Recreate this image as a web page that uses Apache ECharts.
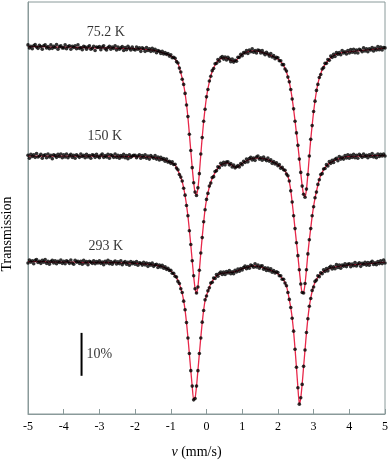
<!DOCTYPE html>
<html><head><meta charset="utf-8">
<script src="https://cdn.jsdelivr.net/npm/echarts@6/dist/echarts.min.js"></script>
<style>html,body{margin:0;padding:0;background:#fff}#c{width:392px;height:460px}</style>
</head><body><div id="c"></div>
<script>
// velocity channels (mm/s)
const vStart = -5, vStep = 0.04;
const vMin = -5, vMax = 5, vTickStep = 1;
const spectraNames = ['75.2 K', '150 K', '293 K'];
const offsets = [-14.5, -39.9, -64.6];
const labelV = [-2.82, -2.85, -2.82];
const labelY = [89.0, 64.6, 39.0];
const scaleBarV = -3.5, scaleBarLow = 8.9, scaleBarPct = 10, scaleBarText = '10%';

// 75.2 K : fit and measured transmission (%)
const fit75 = [
100.1,100.1,100.1,100.1,100.1,100.1,100.1,100.1,100.1,100.1,100.1,100.1,100.1,100.0,100.0,100.0,100.0,100.0,100.0,100.0,100.0,100.0,100.0,100.0,100.0,
100.0,100.0,100.0,100.0,100.0,100.0,100.0,100.0,99.9,99.9,99.9,99.9,99.9,99.9,99.9,99.9,99.9,99.8,99.8,99.8,99.8,99.8,99.8,99.8,99.8,
99.8,99.8,99.8,99.8,99.8,99.8,99.8,99.8,99.8,99.8,99.8,99.8,99.7,99.7,99.7,99.7,99.7,99.7,99.7,99.7,99.7,99.7,99.7,99.7,99.7,
99.6,99.6,99.6,99.55,99.55,99.5,99.5,99.45,99.45,99.4,99.4,99.35,99.3,99.25,99.2,99.1,99.0,98.9,98.8,98.7,98.6,98.5,98.4,98.25,98.1,
97.95,97.75,97.5,97.2,96.8,96.2,95.2,94.0,92.7,91.2,89.2,86.7,83.6,79.8,75.8,71.9,68.5,66.1,65.5,67.1,70.6,74.9,79.0,82.6,85.7,
88.3,90.3,91.9,93.3,94.3,95.2,95.8,96.4,96.8,97.1,97.3,97.4,97.5,97.5,97.4,97.3,97.1,96.9,96.8,96.7,96.8,97.0,97.3,97.7,98.0,
98.3,98.5,98.7,98.8,98.9,99.0,99.05,99.1,99.1,99.1,99.05,99.0,98.95,98.85,98.75,98.65,98.55,98.45,98.3,98.2,98.05,97.9,97.75,97.6,97.4,
97.2,96.95,96.6,96.2,95.7,95.0,94.2,93.1,91.8,90.1,88.0,85.5,82.8,79.9,77.1,74.0,70.7,67.7,65.6,65.1,66.8,70.4,74.5,78.5,81.8,
84.9,87.5,89.7,91.4,92.8,93.8,94.7,95.4,95.9,96.4,96.8,97.2,97.5,97.8,98.0,98.2,98.3,98.4,98.5,98.6,98.7,98.75,98.8,98.85,98.9,
98.9,98.95,99.0,99.0,99.05,99.1,99.1,99.15,99.2,99.2,99.25,99.3,99.3,99.35,99.4,99.4,99.45,99.5,99.5,99.55,99.6,99.6,99.65,99.7,99.7,
99.7];
const data75 = [
100.5,99.8,100.2,99.6,100.3,100.6,100.0,99.7,100.4,100.1,99.5,100.3,100.5,99.8,100.1,99.6,100.5,99.7,100.2,99.9,100.6,99.5,100.1,100.3,99.8,
99.8,100.5,99.6,100.1,100.3,99.5,100.2,99.9,100.3,99.6,100.5,99.7,99.9,99.4,100.2,100.0,99.5,100.0,100.3,99.5,99.7,100.2,99.2,100.0,99.9,
100.1,99.4,100.0,100.3,99.6,99.3,99.9,100.2,99.5,100.0,99.7,100.3,99.3,100.0,99.5,99.8,100.1,99.2,99.9,99.4,100.2,99.7,99.3,100.0,99.5,
99.3,100.0,99.5,99.8,99.0,99.8,99.6,99.0,99.9,99.2,99.6,99.0,99.7,99.1,99.5,98.7,99.2,99.0,98.5,99.0,98.4,98.7,98.3,98.5,97.9,
98.2,97.5,97.6,97.4,96.6,96.3,95.1,94.2,92.5,91.3,89.2,86.5,83.8,79.7,75.9,71.9,68.4,66.2,65.4,67.2,70.5,75.1,78.9,82.7,85.5,
88.4,90.1,92.1,93.2,94.5,95.0,96.1,96.2,97.1,96.7,97.5,97.8,97.2,97.7,97.0,97.6,97.2,96.6,97.2,96.5,96.9,96.7,97.6,97.6,98.3,
98.0,98.7,98.6,99.2,98.5,99.3,98.9,99.6,98.8,99.2,98.6,99.3,99.2,98.6,99.2,98.6,98.2,98.8,98.4,97.9,98.5,97.7,98.0,97.3,97.6,
97.5,96.8,96.8,95.9,95.9,94.9,94.4,93.0,91.9,90.1,87.9,85.6,82.7,80.0,77.1,73.9,70.8,67.6,65.7,65.0,66.9,70.3,74.6,78.5,81.7,
85.0,87.4,89.9,91.3,92.9,93.6,94.9,95.2,96.2,96.2,97.1,96.9,97.9,97.6,98.3,97.8,98.7,98.3,98.7,98.2,99.2,98.6,98.9,98.4,99.2,
98.6,99.4,98.8,99.5,98.7,99.3,98.6,99.5,99.3,98.9,99.8,99.1,99.6,98.9,99.6,99.3,99.9,99.1,99.7,99.3,100.1,99.4,100.0,99.3,99.9,
99.8];

// 150 K
const fit150 = [
100.0,100.0,100.0,100.0,100.0,100.0,100.0,100.0,100.0,100.0,100.0,100.0,100.0,100.0,100.0,100.0,100.0,100.0,100.0,100.0,100.0,100.0,100.0,100.0,100.0,
100.0,100.0,100.0,100.0,100.0,100.0,100.0,100.0,100.0,100.0,100.0,100.0,100.0,100.0,100.0,100.0,100.0,100.0,100.0,100.0,100.0,100.0,100.0,100.0,100.0,
100.0,100.0,100.0,100.0,100.0,100.0,100.0,100.0,100.0,100.0,100.0,100.0,99.9,99.9,99.9,99.9,99.9,99.9,99.9,99.9,99.9,99.9,99.9,99.9,99.9,
99.9,99.9,99.9,99.85,99.85,99.85,99.8,99.8,99.8,99.8,99.75,99.75,99.7,99.7,99.65,99.6,99.55,99.5,99.4,99.3,99.2,99.1,98.95,98.8,98.65,
98.5,98.35,98.15,97.9,97.3,96.6,95.9,95.0,94.0,92.6,90.8,88.6,86.0,82.8,79.3,75.6,72.0,69.2,68.0,69.6,73.3,77.4,81.1,84.5,87.6,
89.8,91.4,92.8,93.9,94.8,95.5,96.1,96.7,97.2,97.6,97.9,98.1,98.25,98.35,98.4,98.35,98.25,98.05,97.85,97.6,97.45,97.4,97.5,97.75,98.05,
98.3,98.5,98.7,98.9,99.05,99.2,99.3,99.4,99.45,99.5,99.5,99.5,99.5,99.5,99.45,99.4,99.35,99.25,99.15,99.0,98.85,98.7,98.55,98.35,98.15,
97.95,97.7,97.45,97.2,96.9,96.5,96.0,95.3,94.0,92.0,89.2,86.2,83.0,79.9,76.8,73.4,70.3,68.1,68.2,70.2,73.5,77.3,80.4,83.2,86.0,
88.3,90.2,91.8,93.2,94.6,95.5,96.2,96.8,97.3,97.7,98.0,98.3,98.5,98.7,98.9,99.05,99.2,99.3,99.4,99.5,99.6,99.7,99.8,99.85,99.9,
99.9,99.9,99.9,99.9,99.9,100.0,100.0,100.0,100.0,100.0,100.0,100.0,100.0,100.0,100.0,100.1,100.1,100.1,100.1,100.1,100.1,100.1,100.1,100.1,100.1,
100.2];
const data150 = [
100.2,99.5,100.4,99.9,100.3,99.7,100.6,99.8,100.0,100.4,99.5,100.1,100.3,99.6,100.5,99.8,100.2,99.4,100.3,100.1,99.7,100.4,99.9,100.5,99.6,
100.3,99.8,100.5,99.6,100.1,100.4,99.7,100.2,99.5,100.3,100.0,99.7,100.5,99.9,100.2,99.6,100.4,99.8,100.1,99.5,100.3,100.2,99.7,100.4,99.9,
99.6,100.2,100.5,99.7,100.1,99.8,100.4,99.5,100.3,100.1,99.7,100.5,99.7,100.2,99.5,100.1,99.8,100.4,99.6,100.1,99.4,100.3,99.7,100.0,100.2,
100.2,99.6,100.0,100.3,99.5,100.1,99.7,100.3,99.5,100.0,99.3,100.1,99.8,99.5,100.1,99.3,99.8,99.1,99.7,99.2,99.4,98.8,99.3,98.6,98.8,
98.3,98.65,98.05,98.1,97.2,96.8,95.7,95.1,94.2,92.5,90.9,88.5,86.1,82.6,79.4,75.6,72.1,69.1,68.1,69.5,73.4,77.4,81.0,84.7,87.5,
89.9,91.3,93.0,93.7,95.0,95.2,96.4,96.6,97.5,97.3,98.3,97.9,98.55,97.95,98.6,98.65,97.95,98.25,97.45,97.9,97.25,97.5,97.8,97.45,98.25,
98.0,98.8,98.5,99.3,98.65,99.4,99.7,99.1,99.55,99.0,99.8,100.0,99.3,99.6,99.05,99.8,99.25,98.95,99.55,98.8,99.15,98.3,98.75,98.15,98.45,
97.75,98.0,97.15,97.4,96.8,96.7,95.8,95.4,94.2,91.9,89.3,86.1,83.1,79.8,76.8,73.5,70.2,68.2,68.1,70.3,73.5,77.2,80.5,83.1,86.1,
88.2,90.3,91.6,93.4,94.5,95.7,95.9,97.0,97.1,98.0,97.7,98.7,98.3,99.0,98.5,99.25,99.5,98.9,99.9,99.3,99.7,99.3,100.1,99.55,100.3,
99.5,100.2,99.7,100.4,99.6,100.2,99.5,100.4,100.1,99.7,100.5,99.9,100.2,99.6,100.3,99.9,100.6,99.8,100.2,99.6,100.5,99.9,100.4,100.0,100.5,
100.0];

// 293 K
const fit293 = [
100.1,100.1,100.1,100.1,100.1,100.1,100.1,100.1,100.1,100.1,100.1,100.1,100.1,100.0,100.0,100.0,100.0,100.0,100.0,100.0,100.0,100.0,100.0,100.0,100.0,
100.0,100.0,100.0,100.0,100.0,100.0,100.0,100.0,100.0,100.0,100.0,100.0,99.9,99.9,99.9,99.9,99.9,99.9,99.9,99.9,99.9,99.9,99.9,99.9,99.9,
99.9,99.9,99.9,99.9,99.9,99.9,99.9,99.9,99.9,99.9,99.85,99.85,99.85,99.85,99.85,99.8,99.8,99.8,99.8,99.8,99.75,99.75,99.75,99.75,99.75,
99.7,99.7,99.65,99.65,99.6,99.6,99.55,99.55,99.5,99.5,99.45,99.4,99.35,99.3,99.25,99.2,99.15,99.1,99.05,98.95,98.85,98.7,98.5,98.35,98.15,
97.9,97.6,97.2,96.8,96.3,95.7,94.9,93.9,92.7,91.0,88.8,85.9,82.4,78.6,74.8,71.0,67.9,68.3,71.0,74.8,78.6,82.4,85.9,88.8,91.0,
92.2,93.2,94.2,94.9,95.5,96.0,96.4,96.8,97.0,97.2,97.3,97.4,97.45,97.5,97.5,97.55,97.6,97.6,97.65,97.7,97.8,97.9,98.0,98.15,98.3,
98.45,98.55,98.65,98.75,98.85,98.95,99.0,99.05,99.1,99.1,99.05,99.0,98.95,98.85,98.75,98.65,98.55,98.45,98.3,98.2,98.05,97.95,97.8,97.65,97.45,
97.25,97.0,96.6,96.2,95.8,95.2,94.4,93.0,91.2,89.4,87.0,83.8,79.8,75.4,70.8,66.9,68.3,71.6,75.6,79.6,83.5,86.9,89.6,91.6,93.2,
94.4,95.3,96.0,96.5,96.9,97.3,97.6,97.8,98.0,98.2,98.35,98.5,98.6,98.7,98.8,98.85,98.9,98.95,99.0,99.05,99.1,99.15,99.2,99.25,99.3,
99.3,99.3,99.35,99.35,99.4,99.4,99.45,99.45,99.5,99.5,99.55,99.55,99.6,99.6,99.65,99.7,99.7,99.75,99.75,99.8,99.85,99.85,99.9,99.95,99.95,
100.0];
const data293 = [
99.8,100.5,100.0,100.3,99.6,100.4,100.6,99.9,100.2,99.7,100.4,100.0,100.6,99.7,100.2,99.5,100.1,100.4,99.8,100.3,99.6,100.2,99.9,100.5,99.7,
100.2,99.6,100.3,100.1,99.7,100.5,99.8,99.5,100.4,100.0,100.2,99.7,100.2,99.5,100.4,99.8,100.1,99.4,100.2,100.0,99.7,100.3,99.6,100.1,99.8,
100.3,99.7,100.0,99.4,100.2,99.8,100.4,99.6,100.1,99.5,99.95,100.25,99.55,100.05,99.65,100.3,99.4,99.9,100.1,99.5,99.95,99.25,100.15,99.65,99.95,
99.5,100.1,99.25,99.85,99.7,99.3,99.95,99.35,99.8,99.0,99.65,99.3,99.75,99.0,99.35,99.5,98.75,99.3,98.85,99.25,98.55,98.9,98.3,98.55,98.05,
98.1,97.4,97.4,96.7,96.5,95.5,95.0,93.8,92.9,90.9,88.9,85.9,82.3,78.7,74.7,71.1,67.9,68.2,71.1,74.7,78.7,82.3,86.0,88.7,91.2,
92.1,93.3,94.0,95.1,95.3,96.3,96.2,97.1,96.7,97.4,97.7,97.1,97.65,97.1,97.8,97.45,98.0,97.3,97.75,97.3,98.1,97.7,98.4,97.85,98.5,
98.15,98.75,99.05,98.45,98.95,98.55,99.3,99.15,98.8,99.6,98.85,99.3,98.55,99.05,99.15,98.35,98.65,98.05,98.6,98.0,98.45,97.65,98.0,97.45,97.75,
97.55,96.8,96.8,96.0,96.0,95.1,94.5,92.9,91.3,89.4,86.9,83.9,79.7,75.5,70.7,66.9,68.4,71.5,75.7,79.5,83.6,86.8,89.7,91.5,93.4,
94.2,95.5,95.8,96.8,96.6,97.5,97.3,98.2,97.8,98.5,97.95,98.7,99.0,98.4,98.9,98.45,99.4,98.75,99.3,98.55,99.3,99.05,99.6,98.95,99.5,
99.6,98.9,99.55,99.15,99.9,99.1,99.55,99.85,99.0,99.7,99.45,99.95,99.3,99.9,99.25,99.9,100.2,99.45,99.85,99.4,100.15,99.65,100.3,99.65,100.45,
99.8];

const fits = [fit75, fit150, fit293];
const datas = [data75, data150, data293];

const AXIS = '#8a9a9a';
const SERIF = '"Liberation Serif","DejaVu Serif",serif';
const series = [];
fits.forEach((f, k) => {
  series.push({
    type: 'line', silent: true, showSymbol: false, smooth: 0.2, z: 2,
    lineStyle: { color: '#e8284a', width: 1.3 },
    data: f.map((t, i) => [vStart + i * vStep, t + offsets[k]])
  });
});
datas.forEach((d, k) => {
  series.push({
    type: 'scatter', silent: true, symbolSize: 3.6, z: 3,
    itemStyle: { color: '#000' },
    data: d.map((t, i) => [vStart + i * vStep, t + offsets[k]])
  });
});
// temperature labels
series.push({
  type: 'scatter', silent: true, symbolSize: 0, z: 4,
  data: spectraNames.map((n, k) => ({ name: n, value: [labelV[k], labelY[k]] })),
  label: { show: true, position: 'inside', formatter: '{b}', color: '#000',
           fontFamily: SERIF, fontSize: 14 }
});
// 10% scale bar
series.push({
  type: 'line', silent: true, showSymbol: false, z: 4,
  lineStyle: { color: '#000', width: 2 },
  data: [[scaleBarV, scaleBarLow], [scaleBarV, scaleBarLow + scaleBarPct]]
});
series.push({
  type: 'scatter', silent: true, symbolSize: 0, z: 4,
  data: [{ name: scaleBarText, value: [scaleBarV, scaleBarLow + scaleBarPct / 2] }],
  label: { show: true, position: 'right', distance: 5, formatter: '{b}', color: '#000',
           fontFamily: SERIF, fontSize: 14 }
});

const chart = echarts.init(document.getElementById('c'), null, { renderer: 'canvas' });
chart.setOption({
  animation: false,
  backgroundColor: '#fff',
  grid: { left: 28, right: 7, top: 2, bottom: 46, show: true, borderColor: AXIS, borderWidth: 1,
          containLabel: false, outerBoundsMode: 'none' },
  xAxis: {
    type: 'value', min: vMin, max: vMax, interval: vTickStep,
    axisLine: { show: true, onZero: false, lineStyle: { color: AXIS, width: 1 } },
    axisTick: { show: true, inside: true, length: 5, lineStyle: { color: AXIS } },
    axisLabel: { color: '#000', fontFamily: SERIF, fontSize: 12, margin: 7 },
    splitLine: { show: false },
    name: '{i|v} (mm/s)', nameLocation: 'middle', nameGap: 31,
    nameTextStyle: { color: '#000', fontFamily: SERIF, fontSize: 14, padding: [0, 20, 0, 0],
      rich: { i: { fontStyle: 'italic', fontFamily: SERIF, fontSize: 14, color: '#000' } } }
  },
  yAxis: {
    type: 'value', min: 0, max: 96,
    axisLine: { show: true, onZero: false, lineStyle: { color: AXIS, width: 1 } },
    axisTick: { show: false }, axisLabel: { show: false }, splitLine: { show: false },
    name: 'Transmission', nameLocation: 'middle', nameGap: 14, nameRotate: 90,
    nameTextStyle: { color: '#000', fontFamily: SERIF, fontSize: 14, padding: [0, 52, 0, 0] }
  },
  series: series
});
</script>
</body></html>
